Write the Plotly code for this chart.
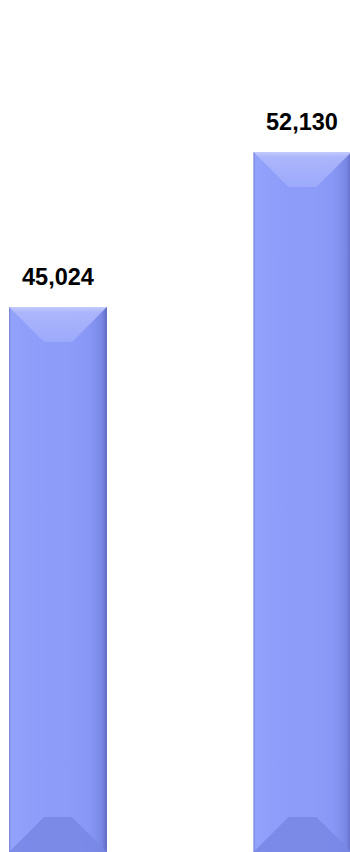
import plotly.graph_objects as go

# ---- data ----
categories = ["Period 1", "Period 2"]
values = [45024, 52130]
labels = [f"{v:,}" for v in values]

# ---- style ----
BASE = "#8d9cf9"
Y_MIN, Y_MAX = 20039, 59098
X_MIN, X_MAX = -0.2372, 1.1943
W, H = 350, 852
BAR_W = 0.4

px_x = (X_MAX - X_MIN) / W   # data units per pixel along x
px_y = (Y_MAX - Y_MIN) / H   # data units per pixel along y

fig = go.Figure()
fig.add_trace(go.Bar(x=list(range(len(categories))), y=values, width=BAR_W,
                     marker=dict(color=BASE, line=dict(width=0)),
                     hovertext=categories, hoverinfo="text+y"))

bevel = 35  # px
for i, v in enumerate(values):
    l, r = i - BAR_W / 2, i + BAR_W / 2
    # side shading (horizontal gradient)
    fig.add_trace(go.Scatter(
        x=[l, r, r, l, l], y=[Y_MIN, Y_MIN, v, v, Y_MIN], mode="lines",
        line=dict(width=0), fill="toself", hoverinfo="skip", showlegend=False,
        fillgradient=dict(type="horizontal", colorscale=[
            [0.0, "rgba(110,120,200,0.9)"], [0.02, "rgba(150,165,252,0.6)"],
            [0.08, "rgba(152,167,252,0.4)"], [0.5, "rgba(141,156,249,0.0)"],
            [0.8, "rgba(128,142,238,0.35)"], [0.95, "rgba(115,128,222,0.8)"],
            [1.0, "rgba(95,105,190,1)"]])))
    dx, dy = bevel * px_x, bevel * px_y
    # top bevel (lighter)
    fig.add_trace(go.Scatter(
        x=[l, r, r - dx, l + dx, l], y=[v, v, v - dy, v - dy, v], mode="lines",
        line=dict(width=0), fill="toself", hoverinfo="skip", showlegend=False,
        fillgradient=dict(type="vertical", colorscale=[
            [0.0, "rgba(160,172,252,0.85)"], [0.85, "rgba(175,185,252,0.9)"],
            [1.0, "rgba(195,203,253,1)"]])))
    # bottom bevel (darker)
    fig.add_trace(go.Scatter(
        x=[l, r, r - dx, l + dx, l], y=[Y_MIN, Y_MIN, Y_MIN + dy, Y_MIN + dy, Y_MIN],
        mode="lines", line=dict(width=0), fill="toself", hoverinfo="skip",
        showlegend=False, fillcolor="rgba(120,134,228,0.85)"))

for i, (v, t) in enumerate(zip(values, labels)):
    fig.add_annotation(x=i, y=v, text=f"<b>{t}</b>", showarrow=False,
                       yanchor="middle", yshift=30,
                       font=dict(family="Liberation Sans, Arial", size=23.5, color="#000000"))

fig.update_layout(
    width=W, height=H, margin=dict(l=0, r=0, t=0, b=0),
    paper_bgcolor="white", plot_bgcolor="white", showlegend=False, bargap=0.6,
    xaxis=dict(range=[X_MIN, X_MAX], visible=False, fixedrange=True),
    yaxis=dict(range=[Y_MIN, Y_MAX], visible=False, fixedrange=True),
)
fig.write_html("out.html", config={"displayModeBar": False},
               post_script="document.body.style.margin='0';document.body.style.overflow='hidden';")
